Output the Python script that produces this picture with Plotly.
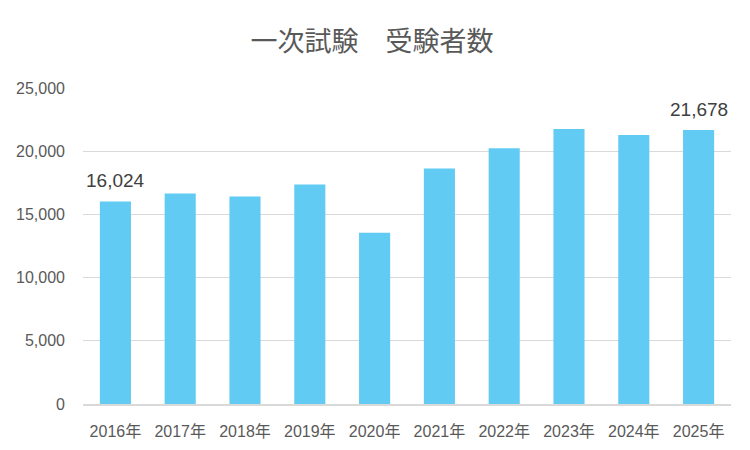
import plotly.graph_objects as go

years = ["2016年", "2017年", "2018年", "2019年", "2020年", "2021年", "2022年", "2023年", "2024年", "2025年"]
examinees = [16024, 16650, 16410, 17370, 13540, 18640, 20240, 21750, 21280, 21678]
labeled_years = ["2016年", "2025年"]
title_text = "一次試験　受験者数"

font_fam = "Liberation Sans, Noto Sans CJK JP, sans-serif"

fig = go.Figure(go.Bar(
    x=years, y=examinees,
    marker=dict(color="#61CBF3", line=dict(width=0)),
    hoverinfo="x+y",
))

for yr, val in zip(years, examinees):
    if yr in labeled_years:
        fig.add_annotation(x=yr, y=val, text=f"{val:,}", showarrow=False,
                           yanchor="bottom", xanchor="center", yshift=8,
                           font=dict(size=19, color="#404040", family=font_fam))

# body margin of 8px in the page is compensated in the margins below
fig.update_layout(
    width=750, height=450,
    margin=dict(l=75, r=27, t=80, b=54),
    paper_bgcolor="white", plot_bgcolor="white",
    bargap=0.52,
    showlegend=False,
    title=dict(text=title_text, x=364/750, xanchor="center", y=1 - 34/450, yanchor="middle",
               font=dict(size=27, color="#595959", family="Noto Sans CJK JP, sans-serif")),
    font=dict(family=font_fam, color="#595959", size=16),
)
fig.update_yaxes(range=[0, 25000], dtick=5000, tickformat=",", showgrid=True,
                 gridcolor="#D9D9D9", gridwidth=1, zeroline=False, showline=False,
                 ticks="", ticklabelstandoff=17, automargin=False,
                 tickfont=dict(size=16, color="#595959", family=font_fam))
fig.update_xaxes(showline=True, linecolor="#D9D9D9", linewidth=2, ticks="",
                 ticklabelstandoff=12, automargin=False,
                 tickfont=dict(size=16, color="#595959", family=font_fam))

fig.write_html("out.html")
